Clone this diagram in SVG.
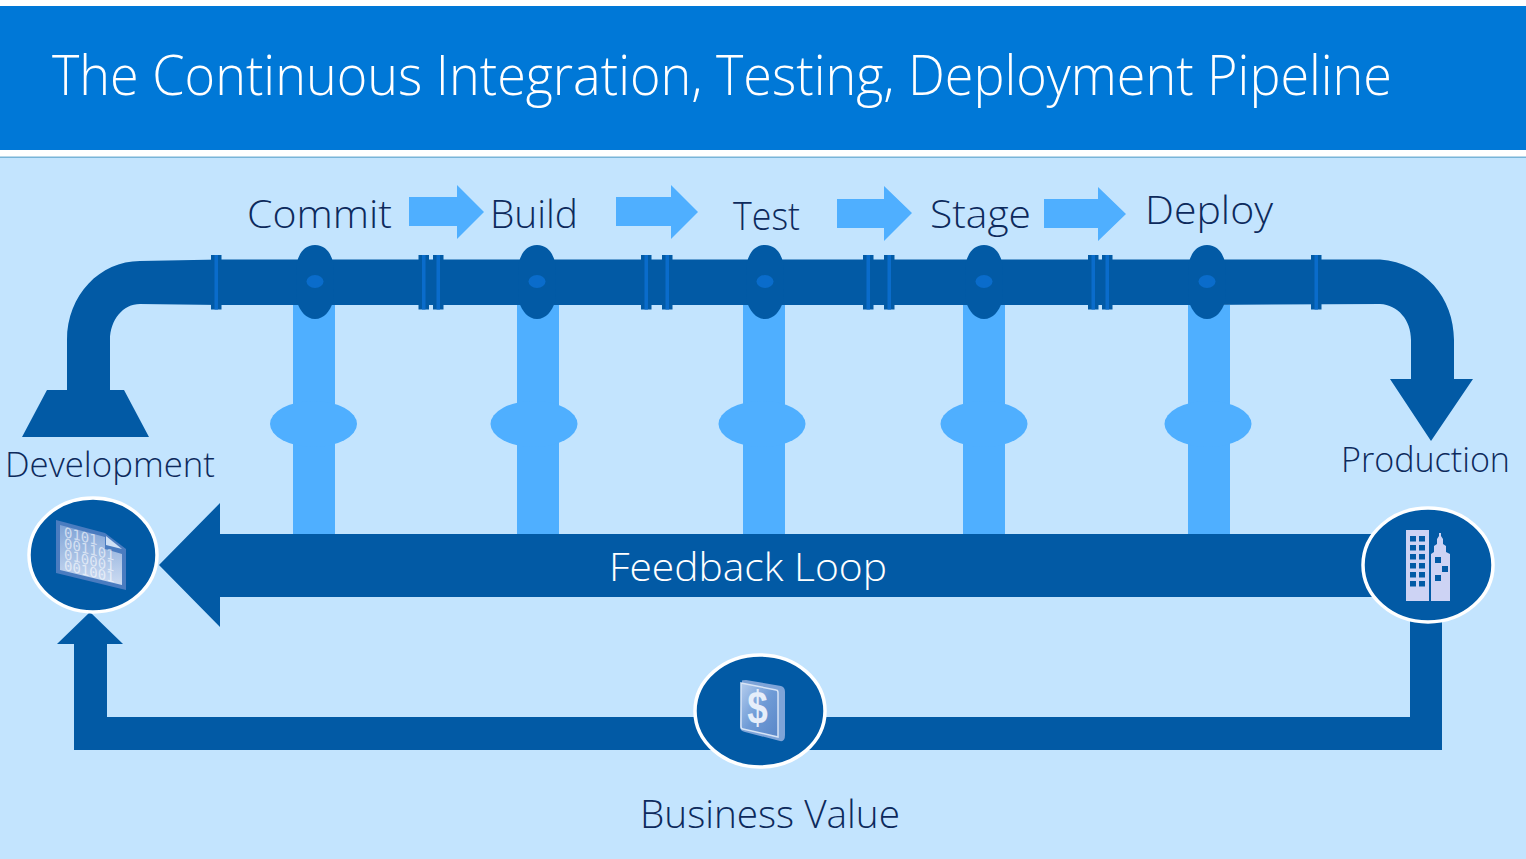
<svg xmlns="http://www.w3.org/2000/svg" width="1526" height="859" viewBox="0 0 1526 859">
  <style>
    .dark { fill: #025aa5; }
    .light { fill: #4fafff; }
    .stripe { fill: #0a6ccb; }
    .hub { fill: #025aa5; stroke: #ffffff; stroke-width: 3.5; }
    .label { font-family: "Open Sans", "Noto Sans", "Liberation Sans", sans-serif; font-weight: 300; font-size: 39px; fill: #0d2a5c; }
    .bits { font-family: "DejaVu Sans Mono", "Liberation Mono", monospace; font-size: 14px; fill: #ffffff; fill-opacity: 0.6; }
    .win { fill: #025aa5; }
    .tower { fill: #cdd3f4; }
  </style>
  <defs>
    <g id="flange">
      <rect x="0" y="255" width="10.500" height="54.500" class="dark"/>
      <rect x="3.500" y="255" width="3.500" height="54.500" class="stripe"/>
    </g>
    <g id="valve">
      <path class="dark" d="M0 245 C11 245 16 254 18 262 C19 272 19 292 18 302 C15 311 9 319 0 319 C-9 319 -15 311 -18 302 C-19 292 -19 272 -18 262 C-16 254 -11 245 0 245 Z"/>
      <ellipse cx="0" cy="281.500" rx="8.500" ry="6.500" class="stripe"/>
    </g>
    <rect id="branch" x="-21" y="305" width="42" height="230" class="light"/>
    <ellipse id="bulge" cx="0" cy="424" rx="43.500" ry="23" class="light"/>
    <linearGradient id="docFace" x1="0" y1="0" x2="0" y2="1">
      <stop offset="0" stop-color="#7fa3d6"/>
      <stop offset="1" stop-color="#cddcf2"/>
    </linearGradient>
    <linearGradient id="coinFace" x1="0" y1="0" x2="1" y2="1">
      <stop offset="0" stop-color="#b4cdee"/>
      <stop offset="0.5" stop-color="#6f9bd6"/>
      <stop offset="1" stop-color="#5a87c8"/>
    </linearGradient>
  </defs>

  <rect width="1526" height="859" fill="#c3e4fe"/>

  <g id="title-band">
    <rect width="1526" height="157" fill="#ffffff"/>
    <rect y="6" width="1526" height="144" fill="#0078d7"/>
    <rect y="156.500" width="1526" height="1.500" fill="#78b4d8"/>
    <text x="52" y="95" textLength="1340" lengthAdjust="spacingAndGlyphs" style="font-family:'Open Sans','Noto Sans','Liberation Sans',sans-serif;font-weight:300;font-size:56px;fill:#ffffff">The Continuous Integration, Testing, Deployment Pipeline</text>
  </g>

  <g id="connectors">
    <!-- stage branches rising into the main pipe -->
    <use href="#branch" x="314"/><use href="#bulge" x="313.500"/>
    <use href="#branch" x="538"/><use href="#bulge" x="534"/>
    <use href="#branch" x="764"/><use href="#bulge" x="762"/>
    <use href="#branch" x="984"/><use href="#bulge" x="984"/>
    <use href="#branch" x="1209"/><use href="#bulge" x="1208"/>

    <!-- main pipe with its two elbows and outlet arrow -->
    <path class="dark" d="M67 390 V340 C67 295 100 261 140 261 L220 259.500 H1380 C1425 263 1454 298 1454 340 V379 H1473 L1431 441 L1390 379 H1411 V340 C1411 320 1398 305 1380 304 L1200 305 H220 L140 304 C123 304 110 320 110 340 V390 Z"/>
    <path class="dark" d="M47 390 H124 L149 437 H22 Z"/>

    <!-- flanges along the pipe -->
    <use href="#flange" x="211"/>
    <use href="#flange" x="418.500"/>
    <use href="#flange" x="433"/>
    <use href="#flange" x="641"/>
    <use href="#flange" x="662"/>
    <use href="#flange" x="863"/>
    <use href="#flange" x="884"/>
    <use href="#flange" x="1088"/>
    <use href="#flange" x="1102"/>
    <use href="#flange" x="1311"/>

    <use href="#valve" x="315"/>
    <use href="#valve" x="537"/>
    <use href="#valve" x="765"/>
    <use href="#valve" x="984"/>
    <use href="#valve" x="1207"/>

    <!-- arrows between the stages -->
    <path class="light" d="M409 197 H457 V185 L484 212 L457 239 V226 H409 Z"/>
    <path class="light" d="M616 197 H671 V185 L698 212 L671 239 V226 H616 Z"/>
    <path class="light" d="M837 199 H884 V186 L912 213 L884 241 V228 H837 Z"/>
    <path class="light" d="M1044 199 H1098 V187 L1126 214 L1098 241 V228 H1044 Z"/>

    <!-- feedback loop -->
    <path class="dark" d="M159 565 L220 503 V534 H1385 V597 H220 V627 Z"/>
    <!-- business value return line -->
    <path class="dark" d="M1410 610 H1442 V750 H74 V644 H57 L90 612 L123 644 H107 V717 H1410 Z"/>
  </g>

  <g id="stage-commit"><text class="label" x="247" y="228" textLength="145" lengthAdjust="spacingAndGlyphs">Commit</text></g>
  <g id="stage-build"><text class="label" x="490" y="228" textLength="88" lengthAdjust="spacingAndGlyphs">Build</text></g>
  <g id="stage-test"><text class="label" x="733" y="230" textLength="67" lengthAdjust="spacingAndGlyphs">Test</text></g>
  <g id="stage-stage"><text class="label" x="930" y="228" textLength="101" lengthAdjust="spacingAndGlyphs">Stage</text></g>
  <g id="stage-deploy"><text class="label" x="1145" y="224" textLength="128" lengthAdjust="spacingAndGlyphs">Deploy</text></g>

  <g id="feedback-label"><text x="609" y="581" textLength="278" lengthAdjust="spacingAndGlyphs" style="font-family:'Open Sans','Noto Sans','Liberation Sans',sans-serif;font-weight:300;font-size:39px;fill:#ffffff">Feedback Loop</text></g>

  <g id="development">
    <text class="label" x="5" y="477" textLength="210" lengthAdjust="spacingAndGlyphs" style="font-size:35px">Development</text>
    <ellipse class="hub" cx="93" cy="555" rx="64" ry="57"/>
    <path d="M56 520 L105 533 L126 549 V590 L56 573 Z" fill="#4a7cc0"/>
    <path d="M60 525 L105 537 V549 L122 554 V585 L60 570 Z" fill="url(#docFace)"/>
    <path d="M106 536 L122 549 L106 545 Z" fill="#cfe0f5"/>
    <g transform="matrix(1 0.25 0 1 0 0)">
      <text class="bits" x="64" y="521">0101</text>
      <text class="bits" x="64" y="532">001101</text>
      <text class="bits" x="64" y="543">010001</text>
      <text class="bits" x="64" y="554">001001</text>
    </g>
  </g>

  <g id="production">
    <text class="label" x="1341" y="472" textLength="169" lengthAdjust="spacingAndGlyphs" style="font-size:35px">Production</text>
    <ellipse class="hub" cx="1428" cy="565" rx="65" ry="57"/>
    <rect class="tower" x="1406" y="530" width="23" height="71"/>
    <path class="tower" d="M1431 601 V554 L1434 552 V546 L1437 544 V539 L1439 536 V533 H1441 V536 L1443 539 V544 L1446 546 V552 L1450 554 V601 Z"/>
    <g class="win">
      <rect x="1410" y="536" width="6" height="5.500"/><rect x="1419" y="536" width="6" height="5.500"/>
      <rect x="1410" y="545" width="6" height="5.500"/><rect x="1419" y="545" width="6" height="5.500"/>
      <rect x="1410" y="554" width="6" height="5.500"/><rect x="1419" y="554" width="6" height="5.500"/>
      <rect x="1410" y="563" width="6" height="5.500"/><rect x="1419" y="563" width="6" height="5.500"/>
      <rect x="1410" y="572" width="6" height="5.500"/><rect x="1419" y="572" width="6" height="5.500"/>
      <rect x="1410" y="581" width="6" height="5.500"/><rect x="1419" y="581" width="6" height="5.500"/>
      <rect x="1435" y="557" width="6" height="6"/><rect x="1442" y="566" width="6" height="6"/>
      <rect x="1435" y="575" width="6" height="6"/>
    </g>
  </g>

  <g id="business-value">
    <text class="label" x="640" y="828" textLength="260" lengthAdjust="spacingAndGlyphs">Business Value</text>
    <ellipse class="hub" cx="760" cy="711" rx="65" ry="56"/>
    <path d="M742 681 Q741 680 746 680 L781 686 Q785 687 785 692 V735 Q785 742 780 741 L745 732 Q740 731 740 727 Z" fill="#7ea4d8"/>
    <path d="M741 683 L776 690 Q778 690 778 693 V737 L743 729 Q741 729 741 726 Z" fill="url(#coinFace)" stroke="#d7e4f6" stroke-width="1.500"/>
    <text x="0" y="0" text-anchor="middle" transform="translate(757.500 724) scale(0.8 1)" style="font-family:'Liberation Sans',sans-serif;font-weight:700;font-size:46px;fill:#e6eefa">$</text>
  </g>
</svg>
